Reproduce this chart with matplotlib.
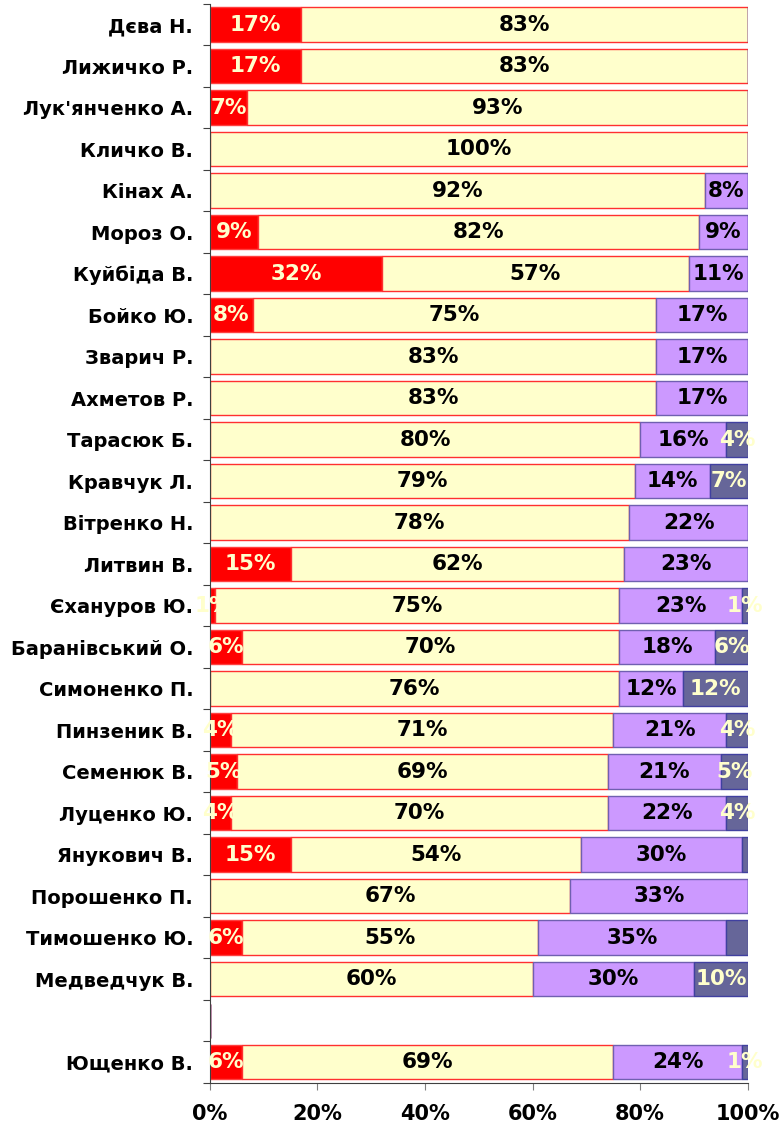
import matplotlib
matplotlib.use("Agg")
import matplotlib.pyplot as plt
import numpy as np

names = ["Дєва Н.", "Лижичко Р.", "Лук'янченко А.", "Кличко В.", "Кінах А.", "Мороз О.",
         "Куйбіда В.", "Бойко Ю.", "Зварич Р.", "Ахметов Р.", "Тарасюк Б.", "Кравчук Л.",
         "Вітренко Н.", "Литвин В.", "Єхануров Ю.", "Баранівський О.", "Симоненко П.",
         "Пинзеник В.", "Семенюк В.", "Луценко Ю.", "Янукович В.", "Порошенко П.",
         "Тимошенко Ю.", "Медведчук В.", "", "Ющенко В."]
seg_red    = [17, 17, 7, 0, 0, 9, 32, 8, 0, 0, 0, 0, 0, 15, 1, 6, 0, 4, 5, 4, 15, 0, 6, 0, 0, 6]
seg_yellow = [83, 83, 93, 100, 92, 82, 57, 75, 83, 83, 80, 79, 78, 62, 75, 70, 76, 71, 69, 70, 54, 67, 55, 60, 0, 69]
seg_violet = [0, 0, 0, 0, 8, 9, 11, 17, 17, 17, 16, 14, 22, 23, 23, 18, 12, 21, 21, 22, 30, 33, 35, 30, 0, 24]
seg_dark   = [0, 0, 0, 0, 0, 0, 0, 0, 0, 0, 4, 7, 0, 0, 1, 6, 12, 4, 5, 4, 1, 0, 4, 10, 0, 1]
hidden_labels = {(20, 3), (22, 3)}  # segments drawn without a value label
xticks = [0, 20, 40, 60, 80, 100]

fig = plt.figure(figsize=(7.83, 11.3), dpi=100)
ax = fig.add_axes([0.268, 0.0416, 0.687, 0.955])

segs = [seg_red, seg_yellow, seg_violet, seg_dark]
fills = ["#FF0000", "#FFFFCC", "#CC99FF", "#666699"]
edges = ["#FF4040", "#FF3030", "#7060B0", "#4040A0"]
txtc = ["#FFFFCC", "black", "black", "#FFFFCC"]

y = np.arange(len(names))
left = np.zeros(len(names))
for k, (vals, fc, ec, tc) in enumerate(zip(segs, fills, edges, txtc)):
    vals = np.array(vals, dtype=float)
    bars = ax.barh(y, vals, left=left, height=0.83, color=fc, edgecolor=ec, linewidth=1.0)
    for i, (b, v) in enumerate(zip(bars, vals)):
        if v <= 0 or (i, k) in hidden_labels:
            continue
        ax.text(left[i] + v / 2, y[i], f"{int(v)}%", ha="center", va="center",
                color=tc, fontsize=15.5, fontweight="bold", clip_on=False)
    left += vals

ax.set_xlim(0, 100)
ax.set_ylim(len(names) - 0.5, -0.5)
ax.set_xticks(xticks)
ax.set_xticklabels([f"{t}%" for t in xticks], fontsize=15, fontweight="bold")
ax.set_yticks(np.arange(len(names) + 1) - 0.5)
ax.set_yticklabels([])
ax.set_yticks(y, minor=True)
ax.set_yticklabels(names, minor=True, fontsize=14, fontweight="bold")
ax.tick_params(axis="y", which="minor", length=0, pad=12)
ax.tick_params(axis="y", which="major", length=5, color="#404040", direction="out")
ax.tick_params(axis="x", length=5, color="#808080", direction="out", pad=10)
for s in ["top", "right"]:
    ax.spines[s].set_visible(False)
ax.spines["left"].set_color("#404040")
ax.spines["bottom"].set_color("#404040")

fig.savefig("out.png", dpi=100)
